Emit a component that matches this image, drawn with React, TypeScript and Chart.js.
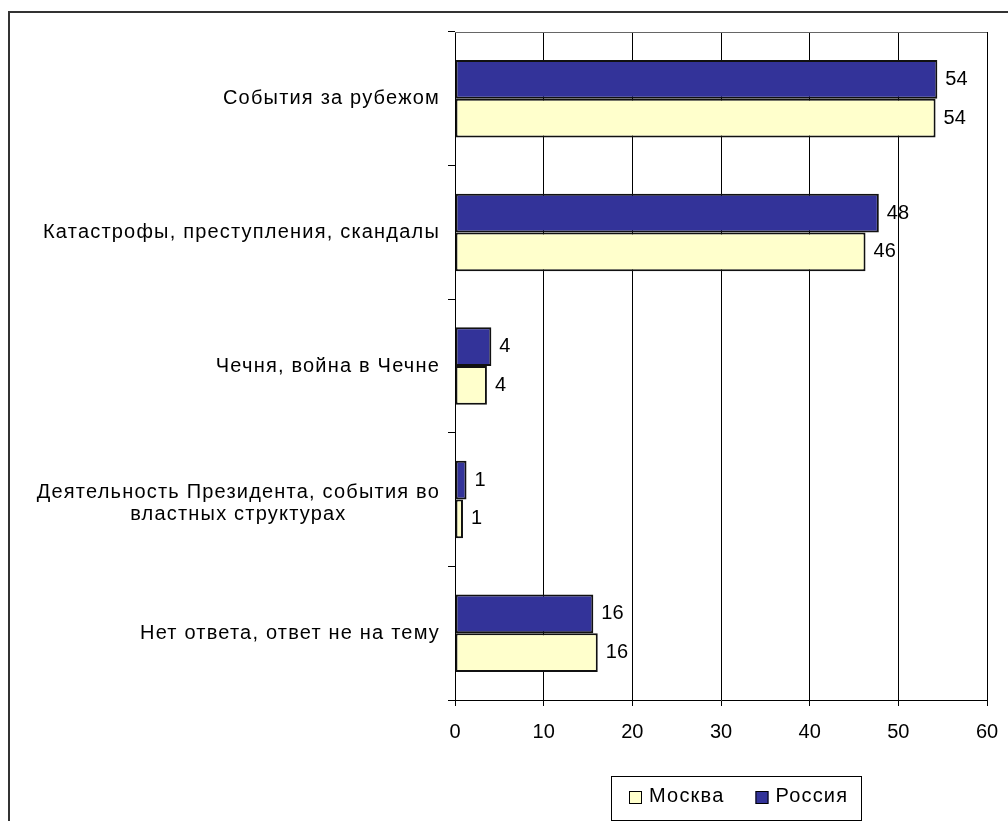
import React, { useEffect, useRef } from 'react';
import { Chart, registerables } from 'chart.js';

Chart.register(...registerables);

const categories: (string | string[])[] = [
  'События за рубежом',
  'Катастрофы, преступления, скандалы',
  'Чечня, война в Чечне',
  ['Деятельность Президента, события во', 'властных структурах'],
  'Нет ответа, ответ не на тему',
];
const russiaValues = [54.4, 47.8, 4.1, 1.3, 15.6];
const moscowValues = [54.2, 46.3, 3.6, 0.9, 16.1];
const russiaLabels = ['54', '48', '4', '1', '16'];
const moscowLabels = ['54', '46', '4', '1', '16'];
const xMin = 0;
const xMax = 60;
const xStep = 10;
const russiaName = 'Россия';
const moscowName = 'Москва';

const russiaColor = '#333399';
const moscowColor = '#FFFFCC';
const FONT = "'Liberation Sans', Arial, sans-serif";
const FONT_SIZE = 20;
const LETTER_SPACING = '1.2px';

const categoryLabelPlugin = {
  id: 'categoryLabelPlugin',
  afterDraw(chart: any) {
    const ctx = chart.ctx;
    const yScale = chart.scales.y;
    const area = chart.chartArea;
    ctx.save();
    ctx.font = `${FONT_SIZE}px ${FONT}`;
    (ctx as any).letterSpacing = LETTER_SPACING;
    ctx.fillStyle = '#000';
    ctx.textBaseline = 'middle';
    ctx.textAlign = 'left';
    const lineH = 22;
    categories.forEach((lab, i) => {
      const lines = Array.isArray(lab) ? lab : [lab];
      const cy = yScale.getPixelForValue(i);
      const widths = lines.map((l) => ctx.measureText(l).width);
      const blockW = Math.max(...widths);
      const right = area.left - 15;
      const cx = right - blockW / 2;
      lines.forEach((l, j) => {
        const y = cy + (j - (lines.length - 1) / 2) * lineH + (lines.length > 1 ? 4 : 0);
        ctx.fillText(l, cx - widths[j] / 2, y);
      });
    });
    ctx.restore();
  },
};

const valueLabelPlugin = {
  id: 'valueLabelPlugin',
  afterDatasetsDraw(chart: any) {
    const ctx = chart.ctx;
    ctx.save();
    ctx.font = `${FONT_SIZE}px ${FONT}`;
    ctx.fillStyle = '#000';
    ctx.textBaseline = 'middle';
    ctx.textAlign = 'left';
    chart.data.datasets.forEach((ds: any, di: number) => {
      const meta = chart.getDatasetMeta(di);
      meta.data.forEach((el: any, i: number) => {
        ctx.fillText(ds.valueLabels[i], el.x + 8, el.y);
      });
    });
    ctx.restore();
  },
};

const frameLegendPlugin = {
  id: 'frameLegendPlugin',
  afterDraw(chart: any) {
    const ctx = chart.ctx;
    const area = chart.chartArea;
    ctx.save();
    // top border of plot area
    ctx.strokeStyle = '#666';
    ctx.lineWidth = 1;
    ctx.beginPath();
    ctx.moveTo(area.left, Math.round(area.top) + 0.5);
    ctx.lineTo(area.right, Math.round(area.top) + 0.5);
    ctx.stroke();

    // legend
    ctx.font = `${FONT_SIZE}px ${FONT}`;
    (ctx as any).letterSpacing = LETTER_SPACING;
    const items = [...chart.data.datasets].reverse().map((d: any) => ({
      label: d.label as string,
      color: d.backgroundColor as string,
    }));
    const padL = 18, sq = 13, gapT = 7, gapItem = 31, padR = 13;
    let w = padL + padR;
    items.forEach((it, k) => {
      w += sq + gapT + ctx.measureText(it.label).width;
      if (k > 0) w += gapItem;
    });
    const left = 601;
    const top = Math.round(area.bottom + 76);
    const h = 44;
    ctx.strokeStyle = '#000';
    ctx.strokeRect(left + 0.5, top + 0.5, Math.round(w), h);
    let x = left + padL;
    const cy = top + 20;
    ctx.textBaseline = 'middle';
    ctx.textAlign = 'left';
    items.forEach((it) => {
      ctx.fillStyle = it.color;
      ctx.fillRect(x, top + 15, sq, sq);
      ctx.strokeStyle = '#000';
      ctx.strokeRect(x + 0.5, top + 15.5, sq - 1, sq - 1);
      x += sq + gapT;
      ctx.fillStyle = '#000';
      ctx.fillText(it.label, x, cy);
      x += ctx.measureText(it.label).width + gapItem;
    });
    ctx.restore();
  },
};

export default function App() {
  const ref = useRef<HTMLCanvasElement>(null);
  useEffect(() => {
    if (!ref.current) return;
    const chart = new Chart(ref.current, {
      type: 'bar',
      data: {
        labels: categories.map((c) => (Array.isArray(c) ? c.join(' ') : c)),
        datasets: [
          {
            label: russiaName,
            data: russiaValues,
            backgroundColor: russiaColor,
            borderColor: '#111',
            borderWidth: 2,
            borderSkipped: false,
            valueLabels: russiaLabels,
          } as any,
          {
            label: moscowName,
            data: moscowValues,
            backgroundColor: moscowColor,
            borderColor: '#111',
            borderWidth: 2,
            borderSkipped: false,
            valueLabels: moscowLabels,
          } as any,
        ],
      },
      options: {
        indexAxis: 'y',
        responsive: false,
        animation: false,
        events: [],
        layout: { padding: { left: 0, right: 21, top: 19, bottom: 81 } },
        datasets: { bar: { categoryPercentage: 0.58, barPercentage: 1 } },
        plugins: { legend: { display: false }, tooltip: { enabled: false } },
        scales: {
          x: {
            type: 'linear',
            min: xMin,
            max: xMax,
            ticks: {
              stepSize: xStep,
              color: '#000',
              padding: 14,
              font: { family: FONT, size: FONT_SIZE },
            },
            grid: { color: '#000', lineWidth: 1, tickLength: 6, drawTicks: true },
            border: { color: '#000', width: 1 },
            afterFit(scale: any) {
              scale.height = 40;
              scale.paddingLeft = 0;
              scale.paddingRight = 0;
            },
          },
          y: {
            type: 'category',
            ticks: { display: false },
            grid: {
              display: true,
              drawOnChartArea: false,
              drawTicks: true,
              tickLength: 7,
              color: '#000',
              offset: true,
            },
            border: { color: '#000', width: 1 },
            afterFit(scale: any) {
              scale.width = 445;
            },
          },
        },
      },
      plugins: [categoryLabelPlugin, valueLabelPlugin, frameLegendPlugin],
    } as any);
    return () => chart.destroy();
  }, []);

  return (
    <div
      style={{
        position: 'fixed',
        left: 8,
        top: 11,
        width: 1010,
        height: 830,
        borderTop: '2px solid #333',
        borderLeft: '2px solid #333',
        boxSizing: 'border-box',
        background: '#fff',
      }}
    >
      <canvas ref={ref} width={998} height={808} style={{ display: 'block' }} />
    </div>
  );
}
